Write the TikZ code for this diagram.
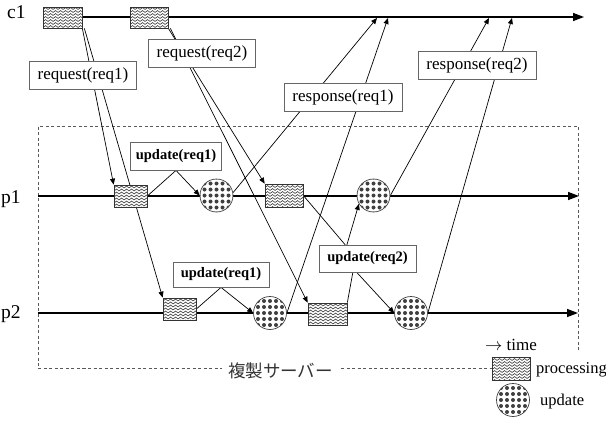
\documentclass[tikz,border=0pt]{standalone}
\usepackage{fontspec}
\setmainfont{Liberation Serif}
\newfontfamily\jpfont{Noto Sans CJK JP}
\usetikzlibrary{arrows.meta,calc,backgrounds,decorations.pathmorphing}

\tikzset{
  axis/.style={line width=1.4pt, -{Triangle[length=11pt,width=8pt]}},
  msg/.style={line width=0.7pt},
  msgarrow/.style={msg, -{Triangle[length=6pt,width=5pt]}},
  frame/.style={draw=black!65, line width=0.8pt, dash pattern=on 3pt off 2.5pt},
  lbl/.style={draw=black!60, line width=0.8pt, fill=white, inner xsep=8.5pt, inner ysep=0pt,
    minimum height=28pt, font=\fontsize{17}{20}\selectfont},
  ulbl/.style={lbl, font=\fontsize{14.5}{17}\selectfont\bfseries, inner xsep=5pt},
  axlabel/.style={anchor=base west, inner sep=0pt, font=\fontsize{19.5}{22}\selectfont},
  legtext/.style={anchor=base west, inner sep=0pt, font=\fontsize{16.5}{19}\selectfont},
  procbox/.style={draw=black!80, line width=0.7pt, fill=white, minimum width=38pt,
    minimum height=22pt, inner sep=0pt,
    path picture={
      \foreach \k in {-15,-12,...,15}
        \draw[black!75, line width=0.65pt, decorate,
              decoration={snake, amplitude=0.9pt, segment length=5pt}]
          ([shift={(-4pt,\k pt)}]path picture bounding box.west) -- ++(50pt,0pt);
    }},
  updcirc/.style={circle, draw=black!75, line width=0.7pt, fill=white, minimum size=33pt,
    inner sep=0pt,
    path picture={
      \foreach \i in {-3,...,3}
        \foreach \j in {-3,...,3}
          \fill[black!75] ([shift={(\i*6pt,\j*6pt)}]path picture bounding box.center) circle (2pt);
    }},
}

\begin{document}
\begin{tikzpicture}[x=1pt,y=-1pt]
\useasboundingbox (0,0) rectangle (606,423);

% process time lines
\coordinate (c1s) at (44,17);  \coordinate (c1e) at (584,17);
\coordinate (p1s) at (38,196); \coordinate (p1e) at (579,196);
\coordinate (p2s) at (38,313); \coordinate (p2e) at (578,313);
\draw[axis] (c1s) -- (c1e);
\draw[axis] (p1s) -- (p1e);
\draw[axis] (p2s) -- (p2e);

% arrival points of the responses on c1
\coordinate (r1a) at (377,18);
\coordinate (r1b) at (388,18);
\coordinate (r2a) at (489,18);
\coordinate (r2b) at (512,18);

\node[axlabel] (tc1) at (7,18) {c1};
\node[axlabel] (tp1) at (1,203) {p1};
\node[axlabel] (tp2) at (1,318) {p2};

% processing steps
\node[procbox, minimum width=39pt, minimum height=21pt] (c1a) at (62.5,17.5) {};
\node[procbox, minimum height=21pt] (c1b) at (149,17.5) {};
\node[procbox, minimum width=33pt] (p1a) at (130.5,196) {};
\node[procbox, minimum height=23pt] (p1b) at (284,195.5) {};
\node[procbox, minimum width=33pt] (p2a) at (179.5,309) {};
\node[procbox, minimum width=39pt] (p2b) at (327.5,314) {};

% state updates
\node[updcirc] (cp1a) at (216.5,195.5) {};
\node[updcirc] (cp1b) at (373.5,195.5) {};
\node[updcirc] (cp2a) at (270,313) {};
\node[updcirc] (cp2b) at (411,313) {};

% message labels
\node[lbl] (q1) at (83,75) {request(req1)};
\node[lbl] (q2) at (202,53.5) {request(req2)};
\node[lbl] (s1) at (343,97) {response(req1)};
\node[lbl] (s2) at (477,65) {response(req2)};
\node[ulbl] (u1a) at (176,156) {update(req1)};
\node[ulbl, minimum width=96pt, minimum height=25pt] (u1b) at (221,274.5) {update(req1)};
\node[ulbl, minimum width=97pt, minimum height=27pt] (u2) at (367.5,258.5) {update(req2)};

% server group caption
\node[fill=white, inner xsep=6pt, inner ysep=1pt, text=black!80,
      font=\jpfont\fontsize{17.5}{20}\selectfont] (srv) at (280.5,371) {複製サーバー};

% legend
\node[axlabel, font=\fontsize{17}{20}\selectfont] (time) at (485,350) {$\rightarrow$ time};
\node[procbox, minimum height=23pt] (lgp) at (511,368.5) {};
\node[updcirc] (lgu) at (513,400) {};
\node[legtext] (lgpt) at (536,373) {processing};
\node[legtext] (lgut) at (540,405) {update};

\begin{pgfonlayer}{background}
  % replicated server group
  \draw[frame] (578,350) -- (578,126) -- (38,126) -- (38,368) -- (492,368);
  % requests from c1
  \draw[msgarrow] (c1a.south east) -- (p1a.north west);
  \draw[msgarrow] ([xshift=2pt]c1a.south east) -- (p2a.north west);
  \draw[msgarrow] (c1b.south east) -- (p1b.north west);
  \draw[msgarrow] ([xshift=2pt]c1b.south east) -- (p2b.north west);
  % updates between replicas
  \draw[msgarrow] (p1a.east) -- (u1a.south) -- (cp1a.west);
  \draw[msgarrow] (p2a.east) -- (u1b.south) -- (cp2a.west);
  \draw[msgarrow] (p1b.east) -- ($(u2.north west)!0.27!(u2.north east)$)
                  -- ($(u2.south west)!0.39!(u2.south east)$) -- (cp2b.west);
  \draw[msgarrow] (p2b.north east) -- ($(u2.south west)!0.35!(u2.south east)$)
                  -- ($(u2.north west)!0.29!(u2.north east)$) -- (cp1b.210);
  % responses to c1
  \draw[msgarrow] (cp1a.10) -- (r1a);
  \draw[msgarrow] (cp2a.east) -- (r1b);
  \draw[msgarrow] (cp1b.east) -- (r2a);
  \draw[msgarrow] (cp2b.east) -- (r2b);
\end{pgfonlayer}
\end{tikzpicture}
\end{document}
